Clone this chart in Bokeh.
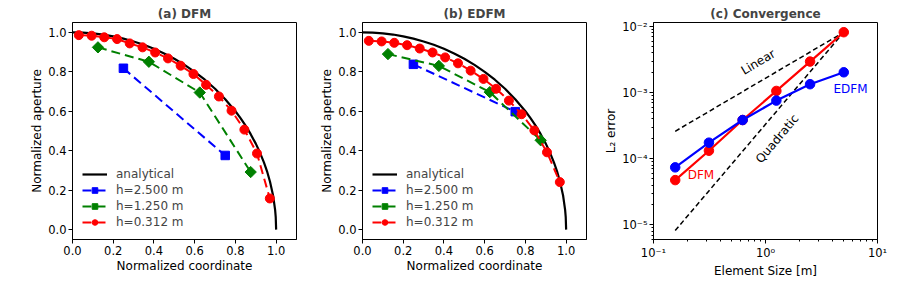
from bokeh.plotting import figure
from bokeh.layouts import row
from bokeh.models import Range1d, FixedTicker, NumeralTickFormatter, CustomJSTickFormatter, Label
from bokeh.embed import file_html
from bokeh.resources import INLINE

# ---------------- data ----------------
ana_x = [0.0, 0.05, 0.1, 0.15, 0.2, 0.25, 0.3, 0.35, 0.4, 0.45, 0.5, 0.55, 0.6, 0.65, 0.7,
         0.75, 0.8, 0.825, 0.85, 0.875, 0.9, 0.92, 0.94, 0.955, 0.97, 0.985, 0.995, 0.998, 1.0]
ana_y = [1.0, 0.999, 0.995, 0.989, 0.98, 0.968, 0.954, 0.937, 0.917, 0.893, 0.866, 0.835, 0.8,
         0.76, 0.714, 0.661, 0.6, 0.565, 0.527, 0.484, 0.436, 0.392, 0.341, 0.297, 0.243,
         0.173, 0.1, 0.063, 0.0]

x_h2500 = [0.25, 0.75]
x_h1250 = [0.125, 0.375, 0.625, 0.875]
x_h0312 = [0.031, 0.094, 0.156, 0.219, 0.281, 0.344, 0.406, 0.469, 0.531, 0.594, 0.656,
           0.719, 0.781, 0.844, 0.906, 0.969]

dfm_h2500 = [0.818, 0.376]
dfm_h1250 = [0.924, 0.851, 0.695, 0.292]
dfm_h0312 = [0.986, 0.983, 0.975, 0.966, 0.944, 0.924, 0.898, 0.868, 0.831, 0.789, 0.734,
             0.675, 0.603, 0.507, 0.386, 0.158]

edfm_h2500 = [0.838, 0.598]
edfm_h1250 = [0.890, 0.830, 0.697, 0.453]
edfm_h0312 = [0.957, 0.954, 0.947, 0.935, 0.918, 0.898, 0.873, 0.843, 0.806, 0.764, 0.714,
              0.654, 0.585, 0.503, 0.392, 0.241]

elem_size = [0.15625, 0.3125, 0.625, 1.25, 2.5, 5.0]
err_dfm = [4.75e-5, 1.32e-4, 3.85e-4, 1.06e-3, 2.95e-3, 8.2e-3]
err_edfm = [7.4e-5, 1.75e-4, 3.85e-4, 7.57e-4, 1.34e-3, 2.03e-3]
lin_x = [0.15625, 5.0]
lin_y = [2.6e-4, 8.2e-3]
quad_x = [0.15625, 5.0]
quad_y = [8.2e-6, 8.2e-3]

FONT = "DejaVu Sans"
TICK = "11.5px"
LAB = "12px"
H = 281
TOP = 22
BOT = H - TOP - 217


def style(p):
    p.grid.visible = False
    p.outline_line_color = "black"
    p.outline_line_width = 1
    p.title.text_font = FONT
    p.title.text_font_size = LAB
    p.title.text_font_style = "bold"
    p.title.align = "center"
    p.title.standoff = 3
    for ax in (p.xaxis[0], p.yaxis[0]):
        ax.axis_line_color = "black"
        ax.major_tick_line_color = "black"
        ax.minor_tick_line_color = "black"
        ax.major_tick_out = 4
        ax.major_tick_in = 0
        ax.minor_tick_out = 2
        ax.minor_tick_in = 0
        ax.major_label_text_font = FONT
        ax.major_label_text_font_size = TICK
        ax.major_label_text_color = "black"
        ax.axis_label_text_font = FONT
        ax.axis_label_text_font_size = LAB
        ax.axis_label_text_font_style = "normal"
        ax.axis_label_text_color = "black"
        ax.major_label_standoff = 2
        ax.axis_label_standoff = 1


def aperture_panel(title, y1, y2, y3, width, left, right):
    p = figure(width=width, height=H, output_backend="svg", toolbar_location=None,
               title=title, x_range=Range1d(0, 1.1), y_range=Range1d(-0.05, 1.05),
               min_border_left=left, min_border_right=right, min_border_top=TOP,
               min_border_bottom=BOT)
    style(p)
    p.xaxis.axis_label = "Normalized coordinate"
    p.yaxis.axis_label = "Normalized aperture"
    p.xaxis.ticker = FixedTicker(ticks=[0, 0.2, 0.4, 0.6, 0.8, 1.0])
    p.yaxis.ticker = FixedTicker(ticks=[0, 0.2, 0.4, 0.6, 0.8, 1.0])
    p.xaxis.formatter = NumeralTickFormatter(format="0.0")
    p.yaxis.formatter = NumeralTickFormatter(format="0.0")

    p.line(ana_x, ana_y, line_color="black", line_width=2.2, legend_label="analytical")
    p.line(x_h2500, y1, line_color="blue", line_width=2, line_dash="9 5",
           legend_label="h=2.500 m")
    p.scatter(x_h2500, y1, marker="square", size=8.5, fill_color="blue", line_color="blue",
              legend_label="h=2.500 m")
    p.line(x_h1250, y2, line_color="green", line_width=2, line_dash="9 5",
           legend_label="h=1.250 m")
    p.scatter(x_h1250, y2, marker="square", angle=45, angle_units="deg", size=8,
              fill_color="green", line_color="green", legend_label="h=1.250 m")
    p.line(x_h0312, y3, line_color="red", line_width=2, line_dash="9 5",
           legend_label="h=0.312 m")
    p.scatter(x_h0312, y3, marker="circle", size=9, fill_color="red", line_color="red",
              legend_label="h=0.312 m")

    lg = p.legend[0]
    lg.location = "bottom_left"
    lg.background_fill_alpha = 0
    lg.border_line_alpha = 0
    lg.margin = 4
    lg.padding = 6
    lg.spacing = 2
    lg.glyph_width = 25
    lg.glyph_height = 14
    lg.label_height = 14
    lg.label_standoff = 9
    lg.label_text_font = FONT
    lg.label_text_font_size = LAB
    lg.label_text_baseline = "middle"
    return p


pa = aperture_panel("(a) DFM", dfm_h2500, dfm_h1250, dfm_h0312, 298, 72, 2)
pb = aperture_panel("(b) EDFM", edfm_h2500, edfm_h1250, edfm_h0312, 291, 64, 3)

pc = figure(width=298, height=H, output_backend="svg", toolbar_location=None,
            title="(c) Convergence", x_axis_type="log", y_axis_type="log",
            x_range=Range1d(0.1, 10), y_range=Range1d(6e-6, 1.15e-2),
            min_border_left=64, min_border_right=10, min_border_top=TOP,
            min_border_bottom=BOT)
style(pc)
pc.xaxis.axis_label = "Element Size [m]"
pc.yaxis.axis_label = "L\u2082 error"
xminor = [m * d for d in (0.1, 1.0) for m in range(2, 10)]
yminor = [m * d for d in (1e-6, 1e-5, 1e-4, 1e-3, 1e-2) for m in range(2, 10)]
pc.xaxis.ticker = FixedTicker(ticks=[0.1, 1, 10], minor_ticks=xminor)
pc.yaxis.ticker = FixedTicker(ticks=[1e-5, 1e-4, 1e-3, 1e-2], minor_ticks=yminor)
sup_code = """
const e = Math.round(Math.log10(tick));
const sup = {"-": "\u207b", "0": "\u2070", "1": "\u00b9", "2": "\u00b2", "3": "\u00b3",
             "4": "\u2074", "5": "\u2075", "6": "\u2076", "7": "\u2077", "8": "\u2078", "9": "\u2079"};
return "10" + String(e).split("").map(c => sup[c]).join("");
"""
pc.xaxis.formatter = CustomJSTickFormatter(code=sup_code)
pc.yaxis.formatter = CustomJSTickFormatter(code=sup_code)

pc.line(lin_x, lin_y, line_color="black", line_width=1.5, line_dash="5 3")
pc.line(quad_x, quad_y, line_color="black", line_width=1.5, line_dash="5 3")
pc.line(elem_size, err_dfm, line_color="red", line_width=2.2)
pc.scatter(elem_size, err_dfm, marker="circle", size=9.5, fill_color="red", line_color="red")
pc.line(elem_size, err_edfm, line_color="blue", line_width=2.2)
pc.scatter(elem_size, err_edfm, marker="circle", size=9.5, fill_color="blue", line_color="blue")

for txt, x, y, ang, col, align in [("Linear", 0.86, 2.9e-3, 31, "black", "center"),
                                   ("Quadratic", 1.27, 2.0e-4, 50, "black", "center"),
                                   ("DFM", 0.202, 5.6e-5, 0, "red", "left"),
                                   ("EDFM", 4.05, 1.13e-3, 0, "blue", "left")]:
    pc.add_layout(Label(x=x, y=y, text=txt, angle=ang, angle_units="deg",
                        text_color=col, text_font=FONT, text_font_size=LAB,
                        text_align=align, text_baseline="middle"))

layout = row(pa, pb, pc)
open("out.html", "w").write(file_html(layout, INLINE))
